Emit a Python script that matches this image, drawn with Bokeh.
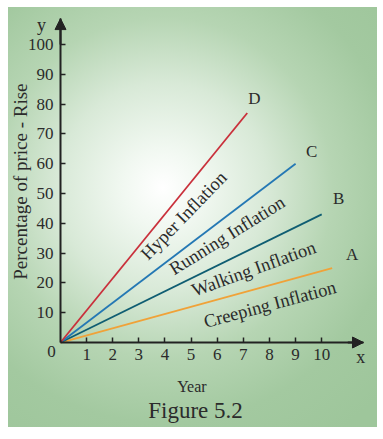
import math
from bokeh.plotting import figure
from bokeh.models import (ColumnDataSource, Range1d, FixedTicker, Label, Arrow, NormalHead)
from bokeh.core.properties import value
from bokeh.embed import file_html
from bokeh.resources import INLINE

# ---- data ----
series = ["A", "B", "C", "D"]
names = ["Creeping Inflation", "Walking Inflation", "Running Inflation", "Hyper Inflation"]
start_year = [0, 0, 0, 0]
start_rise = [0, 0, 0, 0]
end_year = [10.4, 10.0, 9.0, 7.15]
end_rise = [25, 43, 60, 77]
x_ticks = [1, 2, 3, 4, 5, 6, 7, 8, 9, 10]
y_ticks = [10, 20, 30, 40, 50, 60, 70, 80, 90, 100]

# ---- styles ----
colors = ["#f0a238", "#0f5d72", "#2478b4", "#c9303b"]
letter_dx = [20, 17, 16, 7]
letter_dy = [-14, -16, -12, -15]
FONT = "Liberation Serif"
TXT = "#2b2b2b"
AXC = "#222222"

X_AXIS_END, Y_AXIS_END = 11.6, 108.7

p = figure(width=369, height=420, output_backend="svg", toolbar_location=None,
           x_range=Range1d(-1.991, 12.136), y_range=Range1d(-28.52, 112.42),
           min_border_left=0, min_border_right=0, min_border_top=0, min_border_bottom=0)
p.background_fill_color = None
p.border_fill_color = None
p.outline_line_color = None
p.grid.visible = False
p.styles = {"margin-left": "8px", "margin-top": "7px",
            "background": "radial-gradient(circle at 42% 43%, #ffffff 0px, #f1f8f1 40px, "
                          "#d8e9d7 105px, #b6d5b3 170px, #a3c9a0 235px, #9ec69b 300px)"}

for ax, ticks, standoff, bnd in ((p.xaxis, x_ticks, 6, (0, X_AXIS_END)),
                                 (p.yaxis, y_ticks, 7, (0, Y_AXIS_END))):
    ax.fixed_location = 0
    ax.bounds = bnd
    ax.ticker = FixedTicker(ticks=ticks)
    ax.minor_tick_line_color = None
    ax.major_tick_in = 5
    ax.major_tick_out = 0
    ax.major_tick_line_width = 1.5
    ax.major_tick_line_color = AXC
    ax.axis_line_width = 2
    ax.axis_line_color = AXC
    ax.major_label_text_font = FONT
    ax.major_label_text_font_size = "17px"
    ax.major_label_text_color = TXT
    ax.major_label_standoff = standoff

src = ColumnDataSource(dict(x0=start_year, y0=start_rise, x1=end_year, y1=end_rise,
                            c=colors, s=series, dx=letter_dx, dy=letter_dy))
p.segment(x0="x0", y0="y0", x1="x1", y1="y1", color="c", line_width=1.8, source=src)
p.text(x="x1", y="y1", text="s", x_offset="dx", y_offset="dy", source=src,
       text_font=value(FONT), text_font_size="17px", text_color=TXT,
       text_align="center", text_baseline="middle")

# axis arrowheads
for xs, ys, xe, ye in ((0, 100, 0, Y_AXIS_END), (11, 0, X_AXIS_END, 0)):
    p.add_layout(Arrow(end=NormalHead(size=11, fill_color=AXC, line_color=AXC),
                       x_start=xs, y_start=ys, x_end=xe, y_end=ye,
                       line_width=2, line_color=AXC))

# inclined labels
incl = [(8.02, 12.75, 15), (7.40, 24.7, 20), (6.38, 35.9, 32), (4.72, 42.6, 46)]
for (lx, ly, ang), nm in zip(incl, names):
    p.add_layout(Label(x=lx, y=ly, text=nm, angle=math.radians(ang),
                       text_font=FONT, text_font_size="18.5px", text_color=TXT,
                       text_align="center", text_baseline="middle"))

def lab(x, y, t, size, base="alphabetic", angle=0.0):
    p.add_layout(Label(x=x, y=y, text=t, angle=angle, text_font=FONT,
                       text_font_size=size, text_color=TXT,
                       text_align="center", text_baseline=base))

lab(-0.34, -3.0, "0", "17px", "middle")
lab(-0.73, 106.7, "y", "18px")
lab(11.49, -4.7, "x", "18px")
lab(5.03, -14.8, "Year", "16px")
lab(5.17, -22.9, "Figure 5.2", "23px")
lab(-1.53, 54.0, "Percentage of price - Rise", "19px", "middle", math.pi / 2)

open("out.html", "w").write(file_html(p, INLINE))
